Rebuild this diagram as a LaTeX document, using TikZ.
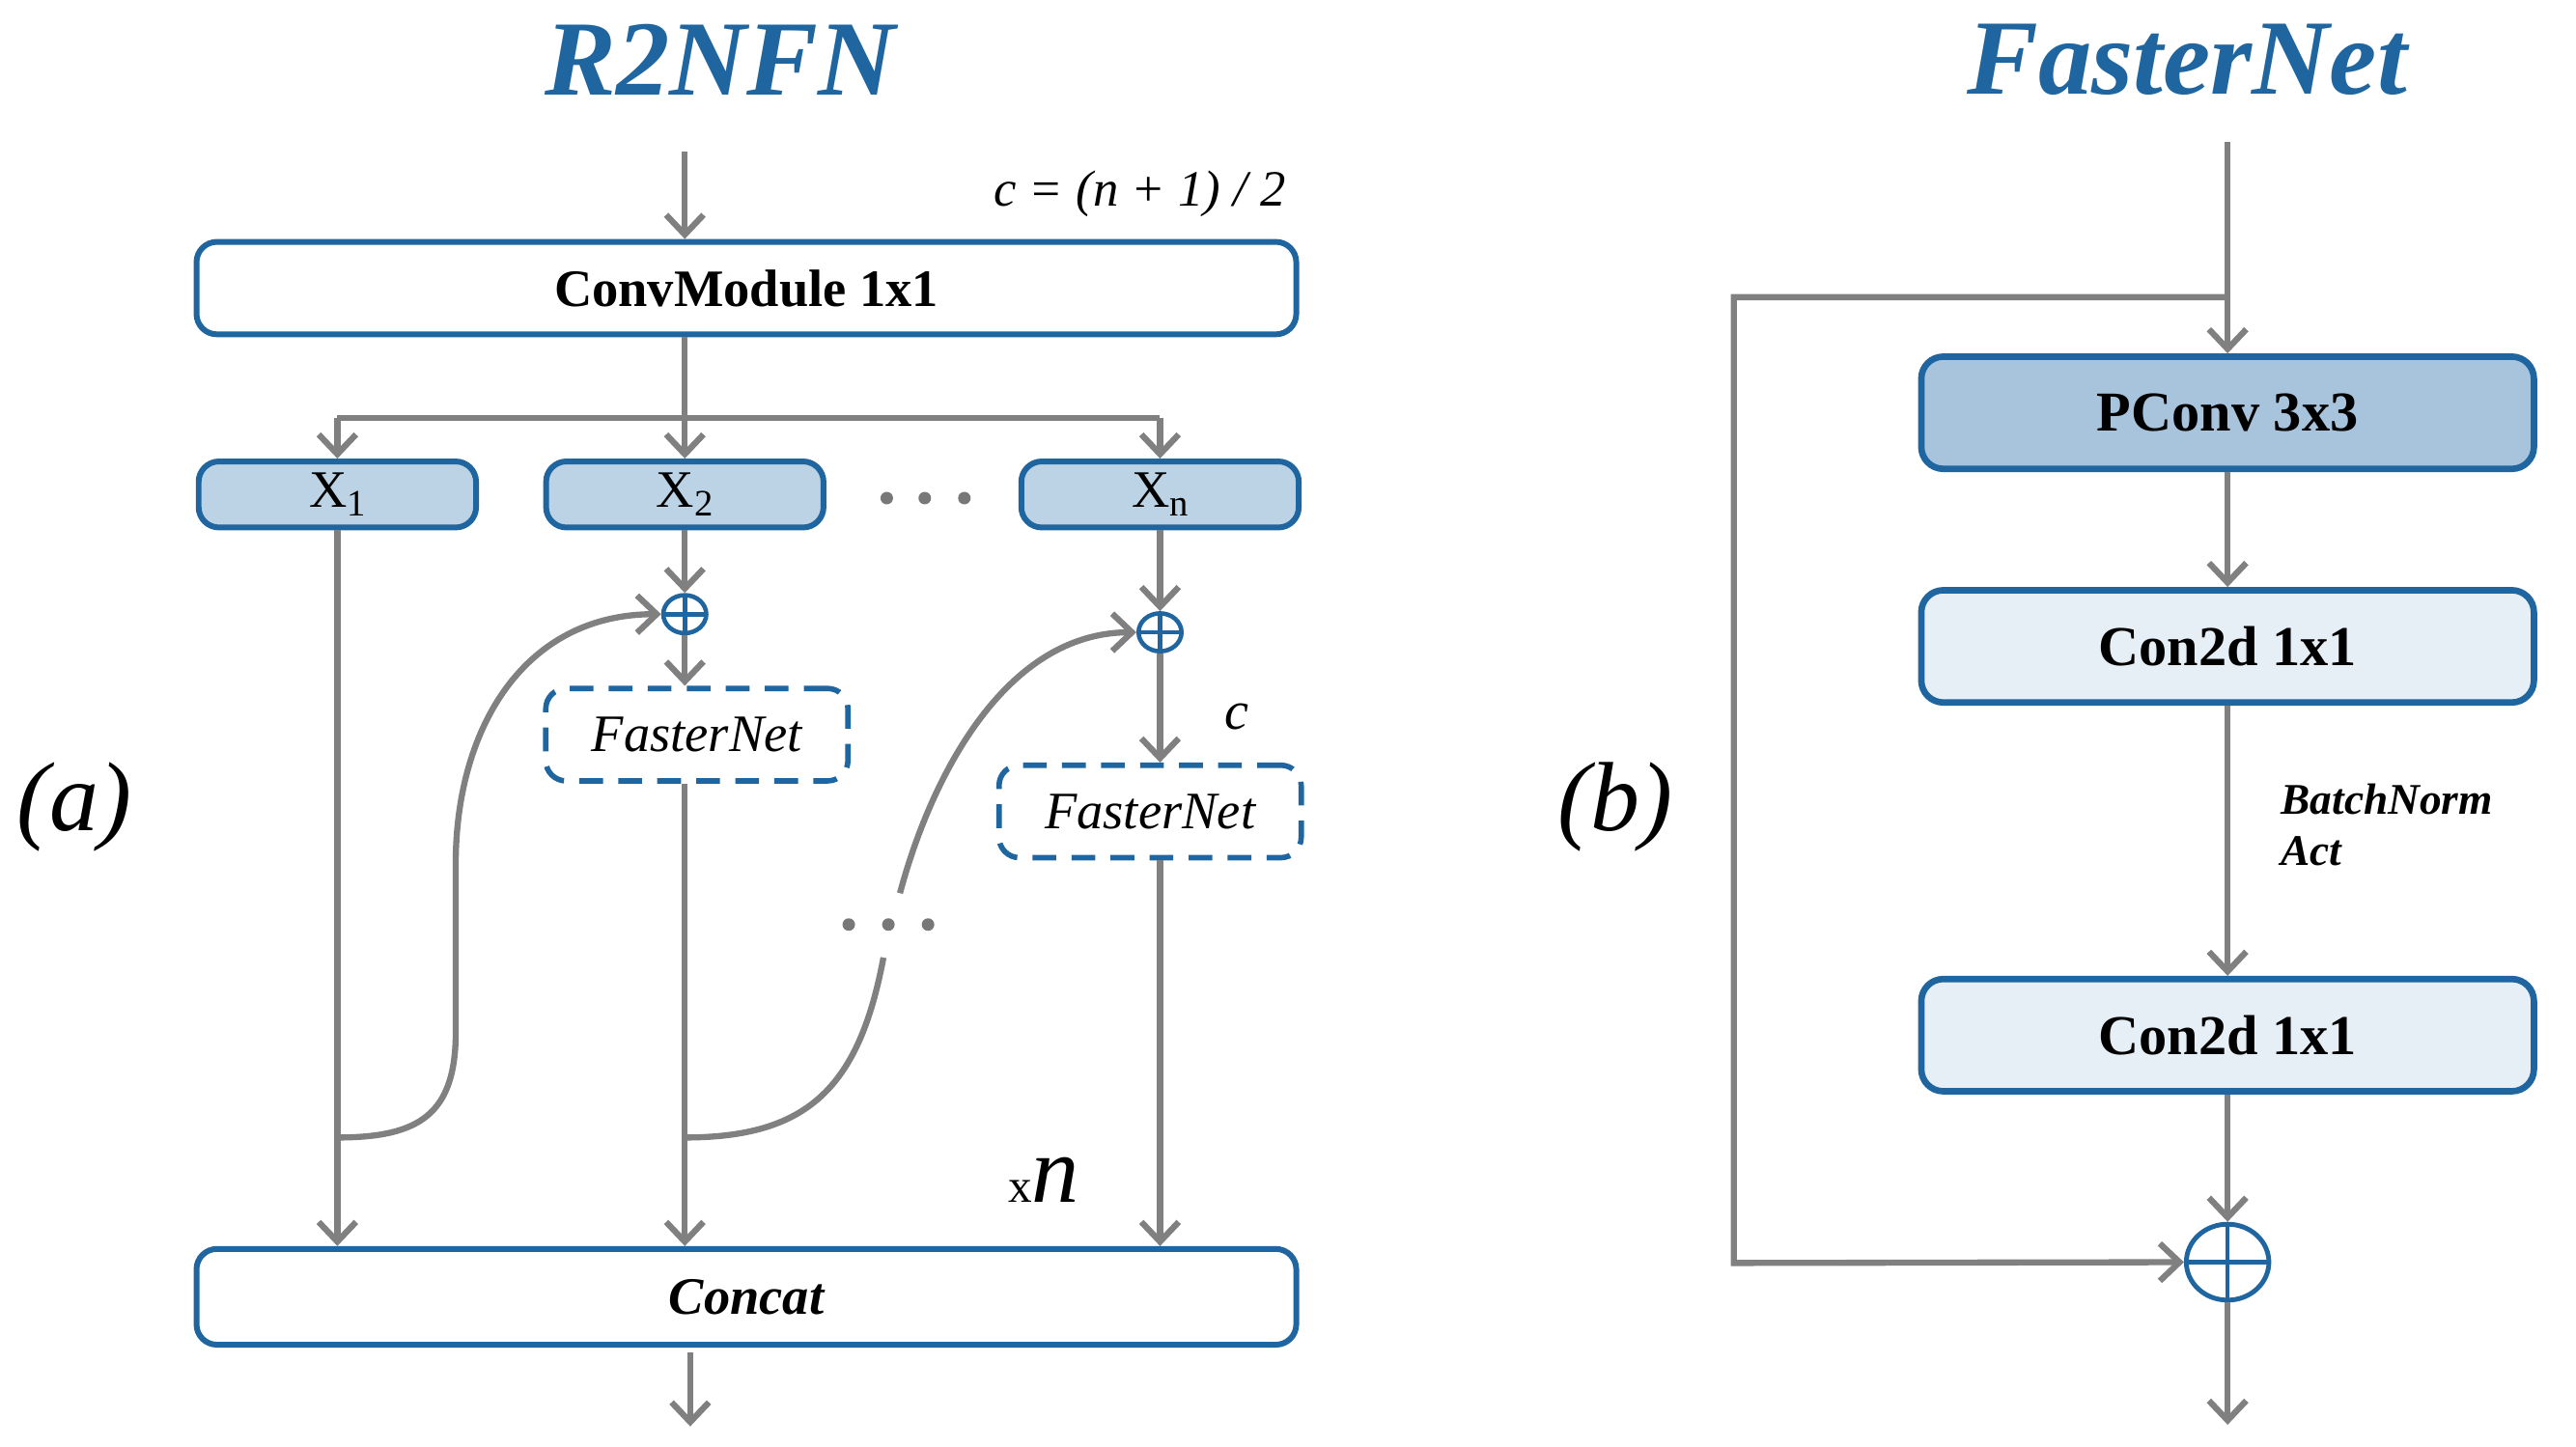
\documentclass[tikz,border=0pt]{standalone}
\usepackage{fontspec}
\setmainfont{Liberation Serif}
\usetikzlibrary{arrows.meta,shapes.geometric,calc}
\definecolor{bblue}{RGB}{31,101,160}
\definecolor{lgray}{RGB}{128,128,128}
\definecolor{dotc}{RGB}{120,120,120}
\definecolor{xfill}{RGB}{188,211,229}
\definecolor{pfill}{RGB}{167,196,220}
\definecolor{cfill}{RGB}{231,239,246}
\begin{document}
\begin{tikzpicture}[x=0.017103cm, y=-0.017103cm,
  wh/.style 2 args={minimum width=#1*0.017103cm, minimum height=#2*0.017103cm},
  box/.style={draw=bblue, line width=1.7pt, rounded corners=6pt, inner sep=0pt, fill=white},
  rbox/.style={box, line width=1.9pt, rounded corners=6.5pt, font=\fontsize{16.6}{19}\selectfont\bfseries},
  dbox/.style={draw=bblue, line width=1.6pt, rounded corners=6pt, inner sep=0pt, dash pattern=on 7pt off 4.5pt, font=\fontsize{15.5}{18}\selectfont\itshape},
  conn/.style={draw=lgray, line width=1.8pt},
  arr/.style={conn, -{Straight Barb[length=5.8pt,width=11pt,line width=1.8pt]}},
  oplus/.style={ellipse, draw=bblue, line width=1.3pt, inner sep=0pt, fill=white,
    path picture={\draw[bblue, line width=1.3pt] (path picture bounding box.north) -- (path picture bounding box.south) (path picture bounding box.west) -- (path picture bounding box.east);}},
  ttl/.style={text=bblue, font=\fontsize{31.5}{36}\selectfont\bfseries\itshape},
  xbox/.style={box, fill=xfill, wh={168}{40}, font=\fontsize{15.5}{18}\selectfont},
  lbl/.style={inner sep=0pt},
]
\useasboundingbox (0,0) rectangle (1560,876);

% ---------------- (a) R2NFN ----------------
\node[ttl] (t1) at (436,36) {R2NFN};
\node[font=\fontsize{29}{34}\selectfont\itshape] (la) at (45,489) {(a)};

\node[box, wh={666}{56}, font=\fontsize{15.5}{18}\selectfont\bfseries] (conv) at (452,174.5) {ConvModule 1x1};
\node[lbl, font=\fontsize{15}{17}\selectfont\itshape, anchor=base east] (ceq) at (779,125) {c = (n + 1) / 2};
\coordinate (in1) at (414.7,92);
\draw[arr] (in1) -- (in1 |- conv.north);

\node[xbox] (x1) at (204.3,299.5) {X\raisebox{-2.5pt}{\fontsize{11}{12}\selectfont 1}};
\node[xbox] (x2) at (414.7,299.5) {X\raisebox{-2.5pt}{\fontsize{11}{12}\selectfont 2}};
\node[xbox] (xn) at (702.5,299.5) {X\raisebox{-2.5pt}{\fontsize{11}{12}\selectfont n}};
\foreach \xx in {537,560,584} \fill[dotc] (\xx,301.7) circle (3.8);

\coordinate (sp) at (414.7,253);
\draw[conn] (sp |- conv.south) -- (sp);
\draw[conn] (x1.north |- sp) -- (xn.north |- sp);
\draw[arr] (x1.north |- sp) -- (x1.north);
\draw[arr] (x2.north |- sp) -- (x2.north);
\draw[arr] (xn.north |- sp) -- (xn.north);

\node[oplus, wh={26}{23}] (p2) at (414.7,372) {};
\node[oplus, wh={26}{23}] (pn) at (702.5,383) {};
\node[dbox, wh={183}{56}] (fn1) at (422,445) {FasterNet};
\node[dbox, wh={183}{56}] (fn2) at (696.5,491.5) {FasterNet};
\node[font=\fontsize{16}{18}\selectfont\itshape] (cl) at (749,434) {c};

\node[box, wh={666}{58}, font=\fontsize{15.5}{18}\selectfont\bfseries\itshape] (concat) at (452,785.5) {Concat};

\draw[arr] (x1.south) -- (x1.south |- concat.north);
\draw[arr] (x2.south) -- (p2.north);
\draw[arr] (p2.south) -- (p2.south |- fn1.north);
\draw[arr] (fn1.south -| p2) -- (p2 |- concat.north);
\draw[arr] (xn.south) -- (pn.north);
\draw[arr] (pn.south) -- (pn.south |- fn2.north);
\draw[arr] (fn2.south -| pn) -- (pn |- concat.north);

\coordinate (b1) at (204.3,689);
\draw[arr] (b1) .. controls (254,689) and (276,675) .. (276,625) -- (276,520) .. controls (277,440) and (318,372) .. (p2.west);
\coordinate (b2) at (414.7,689);
\draw[conn] (b2) .. controls (488,689) and (520,660) .. (535,580);
\coordinate (b2u) at (545,541);
\draw[arr] (b2u) .. controls (564,470) and (609,383) .. (pn.west);
\foreach \xx in {514,538,562} \fill[dotc] (\xx,560) circle (3.8);

\node[anchor=base, lbl] (xnl) at (632,728) {{\fontsize{14}{14}\selectfont x}{\fontsize{28}{28}\selectfont\itshape n}};

\coordinate (out1) at (418,864);
\draw[arr] (out1 |- concat.south) ++(0,3) -- (out1);

% ---------------- (b) FasterNet ----------------
\node[ttl] (t2) at (1324.5,36) {FasterNet};
\node[font=\fontsize{29}{34}\selectfont\itshape] (lb) at (978,489) {(b)};

\coordinate (inb) at (1349,86);
\node[rbox, fill=pfill, wh={371}{68}] (pconv) at (1349,250) {PConv 3x3};
\node[rbox, fill=cfill, wh={371}{68}] (con1) at (1349,391.5) {Con2d 1x1};
\node[rbox, fill=cfill, wh={371}{68}] (con2) at (1349,627) {Con2d 1x1};
\node[oplus, line width=1.4pt, wh={50}{46}] (pb) at (1349,764.5) {};

\draw[arr] (inb) -- (pconv.north);
\coordinate (br) at (1349,180);
\coordinate (lc) at (1050,180);
\coordinate (lcb) at (1050,765);
\draw[arr] (br) -- (lc) -- (lcb) -- (pb.west);
\draw[arr] (pconv.south) -- (con1.north);
\draw[arr] (con1.south) -- (con2.north);
\draw[arr] (con2.south) -- (pb.north);
\coordinate (outb) at (1349,863);
\draw[arr] (pb.south) -- (outb);

\node[lbl, anchor=base west, font=\fontsize{12.9}{15}\selectfont\bfseries\itshape] (bn) at (1381,493) {BatchNorm};
\node[lbl, anchor=base west, font=\fontsize{12.9}{15}\selectfont\bfseries\itshape] (act) at (1381,524) {Act};
\end{tikzpicture}
\end{document}
